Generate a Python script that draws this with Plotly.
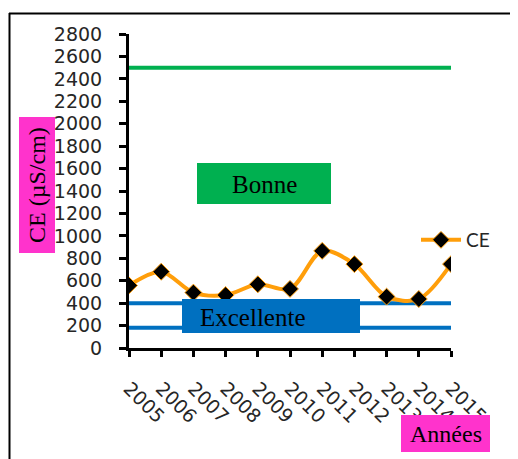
import plotly.graph_objects as go

years = [2005, 2006, 2007, 2008, 2009, 2010, 2011, 2012, 2013, 2014, 2015]
ce_values = [558, 680, 494, 472, 568, 527, 866, 748, 458, 437, 748]
limit_bonne = 2500
limit_excellente_high = 400
limit_excellente_low = 180
y_ticks = list(range(0, 2801, 200))

OFF = 8  # page body margin offset
W, H = 518 - OFF, 459 - OFF
# plot area in screen pixels
L, R, T, B = 129, 451, 34, 348


def px(x):
    return (x - L) / (R - L)


def py(y):
    return (B - y) / (B - T)


fig = go.Figure()

fig.add_trace(go.Scatter(x=[years[0], years[-1]], y=[limit_bonne] * 2, mode="lines",
                         line=dict(color="#00B050", width=4), showlegend=False, hoverinfo="skip"))
fig.add_trace(go.Scatter(x=[years[0], years[-1]], y=[limit_excellente_high] * 2, mode="lines",
                         line=dict(color="#0070C0", width=4), showlegend=False, hoverinfo="skip"))
fig.add_trace(go.Scatter(x=[years[0], years[-1]], y=[limit_excellente_low] * 2, mode="lines",
                         line=dict(color="#0070C0", width=4), showlegend=False, hoverinfo="skip"))

fig.add_trace(go.Scatter(x=years, y=ce_values, mode="lines+markers", name="CE",
                         line=dict(color="#FF9E0A", width=4, shape="spline", smoothing=0.9),
                         marker=dict(symbol="diamond", size=13, color="black",
                                     line=dict(color="#FF9E0A", width=1))))

shapes = [
    dict(type="line", xref="paper", yref="paper", x0=px(9.5), x1=px(9.5), y0=py(13), y1=py(480),
         line=dict(color="black", width=2)),
    dict(type="line", xref="paper", yref="paper", x0=px(9), x1=px(540), y0=py(13.5), y1=py(13.5),
         line=dict(color="black", width=2)),
    dict(type="rect", xref="paper", yref="paper", x0=px(197), x1=px(331), y0=py(204), y1=py(163),
         fillcolor="#00B050", line=dict(width=0), layer="above"),
    dict(type="rect", xref="paper", yref="paper", x0=px(182), x1=px(360), y0=py(333), y1=py(299),
         fillcolor="#0070C0", line=dict(width=0), layer="above"),
    dict(type="rect", xref="paper", yref="paper", x0=px(19), x1=px(55), y0=py(253), y1=py(117),
         fillcolor="#FF33CC", line=dict(width=0)),
    dict(type="rect", xref="paper", yref="paper", x0=px(401), x1=px(490), y0=py(452), y1=py(415),
         fillcolor="#FF33CC", line=dict(width=0)),
]

serif = "Liberation Serif, Times New Roman, serif"
common = dict(xref="paper", yref="paper", showarrow=False, xanchor="center", yanchor="middle")
annotations = [
    dict(text="Bonne", x=px(264), y=py(184), font=dict(family=serif, size=25, color="black"), **common),
    dict(text="Excellente", x=px(253), y=py(317), font=dict(family=serif, size=25, color="black"), **common),
    dict(text="CE (µS/cm)", x=px(37), y=py(185), textangle=-90,
         font=dict(family=serif, size=24, color="black"), **common),
    dict(text="Années", x=px(445.5), y=py(434), font=dict(family=serif, size=24, color="black"), **common),
]

tick_font = dict(family="DejaVu Sans, sans-serif", size=19, color="#262626")

fig.update_layout(
    width=W, height=H,
    margin=dict(l=L - OFF, r=W - (R - OFF), t=T - OFF, b=H - (B - OFF), pad=0),
    paper_bgcolor="white", plot_bgcolor="white",
    font=dict(family="Lato, Open Sans, sans-serif", size=20, color="#262626"),
    shapes=shapes, annotations=annotations,
    legend=dict(x=px(416), y=py(221), xanchor="left", yanchor="top",
                bgcolor="rgba(0,0,0,0)", font=dict(size=19), itemwidth=40),
    xaxis=dict(range=[years[0], years[-1]], tickmode="array", tickvals=years,
               ticktext=[str(y) for y in years], tickangle=45, tickfont=tick_font,
               showgrid=False, zeroline=False, showline=True, linecolor="black", linewidth=3,
               ticks="outside", ticklen=6, tickwidth=3, tickcolor="black",
               ticklabelstandoff=13),
    yaxis=dict(range=[0, 2800], tickmode="array", tickvals=y_ticks, tickfont=tick_font,
               showgrid=False, zeroline=False, showline=True, linecolor="black", linewidth=3,
               ticks="outside", ticklen=7, tickwidth=3, tickcolor="black",
               ticklabelstandoff=13),
)

fig.write_html("out.html")
